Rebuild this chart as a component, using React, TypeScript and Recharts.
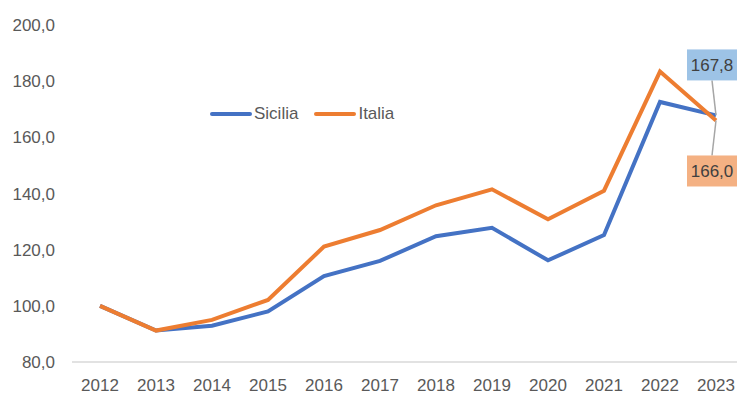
import { LabelList, Line, LineChart, XAxis, YAxis } from 'recharts'

const years = ['2012', '2013', '2014', '2015', '2016', '2017', '2018', '2019', '2020', '2021', '2022', '2023']
const sicilia = [100, 91.2, 92.9, 98.0, 110.6, 116.0, 124.8, 127.8, 116.2, 125.2, 172.6, 167.8]
const italia = [100, 91.2, 95.0, 102.1, 121.1, 127.0, 135.8, 141.5, 130.8, 141.0, 183.4, 166.0]
const yTicks = [80, 100, 120, 140, 160, 180, 200]

const data = years.map((year, i) => ({ year, Sicilia: sicilia[i], Italia: italia[i] }))

const fmt = (v: number) => v.toFixed(1).replace('.', ',')
const font = 'Liberation Sans, Arial, sans-serif'
const lastIndex = years.length - 1

function CalloutLabel(props: any, fill: string, above: boolean) {
  const { x, y, index, value } = props
  if (index !== lastIndex) return null
  const w = 54
  const h = 31
  const bx = x - 29
  const by = above ? y - 66 : y + 35
  const ly = above ? by + h : by
  return (
    <g>
      <line x1={x} y1={y} x2={x - 4} y2={ly} stroke="#a6a6a6" strokeWidth={1.5} />
      <rect x={bx} y={by} width={w} height={h} fill={fill} />
      <text x={bx + 25} y={by + h / 2 + 6} textAnchor="middle" fontSize={17} fill="#404040" fontFamily={font}>
        {fmt(value)}
      </text>
    </g>
  )
}

const legendItems = [
  { name: 'Sicilia', color: '#4472C4' },
  { name: 'Italia', color: '#ED7D31' },
]

function ChartLegend() {
  return (
    <div
      style={{
        position: 'absolute',
        left: 210,
        top: 104,
        display: 'flex',
        alignItems: 'center',
        fontFamily: font,
        fontSize: 17,
        color: '#595959',
      }}
    >
      {legendItems.map((it) => (
        <div key={it.name} style={{ display: 'flex', alignItems: 'center', marginRight: 16 }}>
          <span style={{ display: 'inline-block', width: 42, height: 4, borderRadius: 2, background: it.color }} />
          <span style={{ marginLeft: 2 }}>{it.name}</span>
        </div>
      ))}
    </div>
  )
}

export default function App() {
  return (
    <div style={{ position: 'absolute', left: 0, top: 0, width: 737, height: 394, overflow: 'hidden', background: '#fff' }}>
      <LineChart width={750} height={394} data={data} margin={{ top: 25, right: 6, bottom: 0, left: 0 }}>
        <XAxis
          dataKey="year"
          tickLine={false}
          axisLine={{ stroke: '#d9d9d9', strokeWidth: 1.5 }}
          tick={{ fontSize: 17, fill: '#595959', fontFamily: font }}
          tickMargin={11}
          height={32}
          interval={0}
          padding={{ left: 28, right: 28 }}
        />
        <YAxis
          domain={[80, 200]}
          ticks={yTicks}
          tickFormatter={fmt}
          axisLine={false}
          tickLine={false}
          tick={{ fontSize: 17, fill: '#595959', fontFamily: font }}
          tickMargin={11}
          width={72}
        />
        <Line
          type="linear"
          dataKey="Sicilia"
          stroke="#4472C4"
          strokeWidth={4}
          dot={false}
          isAnimationActive={false}
        >
          <LabelList dataKey="Sicilia" content={(p: any) => CalloutLabel(p, '#9DC3E6', true)} />
        </Line>
        <Line
          type="linear"
          dataKey="Italia"
          stroke="#ED7D31"
          strokeWidth={4}
          dot={false}
          isAnimationActive={false}
        >
          <LabelList dataKey="Italia" content={(p: any) => CalloutLabel(p, '#F4B183', false)} />
        </Line>
      </LineChart>
      <ChartLegend />
    </div>
  )
}
